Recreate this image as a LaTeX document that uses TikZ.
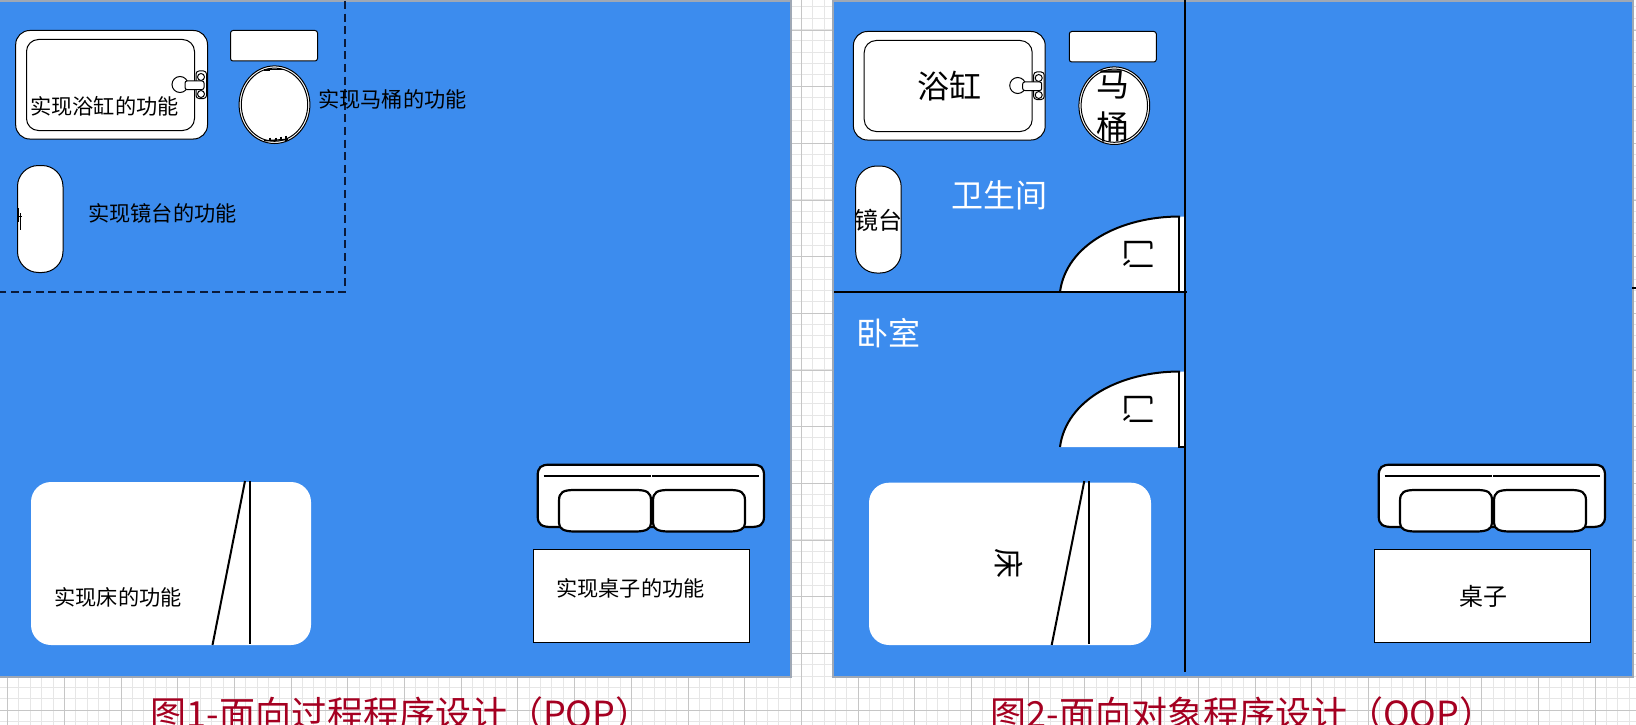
\documentclass[tikz,border=0pt]{standalone}
\usepackage{fontspec}
\setmainfont{Noto Sans CJK SC}
\definecolor{panelblue}{HTML}{3C8CEE}
\definecolor{edgegray}{HTML}{9FA8B5}
\definecolor{gridminor}{HTML}{E6E6E6}
\definecolor{gridmajor}{HTML}{C6C6C6}
\definecolor{titlered}{HTML}{A50021}
\definecolor{dashnavy}{HTML}{0A1A3A}
\tikzset{
  panel/.style={fill=panelblue,draw=none},
  item/.style={fill=white,draw=black,line width=1pt},
  heavy/.style={fill=white,draw=black,line width=2.2pt},
  label/.style={inner sep=0pt,font=\fontsize{21.2}{21.2}\selectfont,text=black},
  biglabel/.style={inner sep=0pt,font=\fontsize{32}{32}\selectfont,text=black},
  roomlabel/.style={inner sep=0pt,font=\fontsize{32}{32}\selectfont,text=white},
  doorlabel/.style={inner sep=0pt,font=\fontsize{32}{32}\selectfont,text=black,rotate=90},
  titlelabel/.style={inner sep=0pt,font=\fontsize{36}{36}\selectfont,text=titlered},
  wall/.style={draw=black,line width=2pt},
  partition/.style={draw=dashnavy,line width=2pt,dash pattern=on 8pt off 4.6pt},
}
\newcommand{\tubshape}{%
  \draw[item,rounded corners=14pt] (15.7,30.5) rectangle (207.5,139);
  \draw[item,rounded corners=12pt] (26.5,39.5) rectangle (194.5,130.5);
  \draw[item] (180,84.5) circle (8);
  \draw[item,rounded corners=3pt] (196,71) rectangle (206.5,98.5);
  \draw[item] (201,77) circle (3.5);
  \draw[item] (201,94) circle (3.5);
  \draw[item,rounded corners=2pt] (185,81) rectangle (204,89.5);
}
\newcommand{\cisternshape}{%
  \draw[item,rounded corners=2.5pt] (230.5,30.5) rectangle (317.5,61);
}
\newcommand{\bowlshape}{%
  \draw[item] (274.5,104.7) ellipse (35.4 and 38.8);
  \draw[item] (274.5,104.7) ellipse (33.2 and 36.6);
}
\newcommand{\standshape}{%
  \draw[item,rounded corners=21pt] (17.5,165.5) rectangle (63,272.5);
}
\newcommand{\sofashape}{%
  \draw[heavy] (537.7,476) .. controls (537.7,467) and (541,464.7) .. (550,464.7)
    -- (752,464.7) .. controls (761,464.7) and (764,467) .. (764,476)
    -- (764,516) .. controls (764,525) and (760,527) .. (750,527)
    -- (552,527) .. controls (542,527) and (537.7,525) .. (537.7,516) -- cycle;
  \draw[black,line width=2pt] (543.5,475.7) -- (650.5,475.7);
  \draw[black,line width=2pt] (652,475.7) -- (758.5,475.7);
  \draw[heavy] (559,501) .. controls (559,492) and (563,490) .. (575,490)
    -- (635,490) .. controls (647,490) and (651,492) .. (651,501)
    -- (651,523) .. controls (651,529) and (646,531.5) .. (635,531.5)
    -- (575,531.5) .. controls (564,531.5) and (559,529) .. (559,523) -- cycle;
  \draw[heavy] (653,501) .. controls (653,492) and (657,490) .. (669,490)
    -- (729,490) .. controls (741,490) and (745,492) .. (745,501)
    -- (745,523) .. controls (745,529) and (740,531.5) .. (729,531.5)
    -- (669,531.5) .. controls (658,531.5) and (653,529) .. (653,523) -- cycle;
  \draw[item] (533.5,549.5) rectangle (749.5,642.5);
}
\newcommand{\doorshape}[1]{%
  \fill[white] (1060,#1) .. controls (1066,#1-47) and (1120,#1-75.5) .. (1178,#1-75.5) -- (1185,#1-75.5) -- (1185,#1) -- cycle;
  \draw[black,line width=2pt] (1060,#1) .. controls (1066,#1-47) and (1120,#1-75.5) .. (1180,#1-75.5);
  \draw[black,line width=2pt] (1179,#1-75.5) -- (1179,#1) -- (1185,#1);
}
\begin{document}
\begin{tikzpicture}[x=1pt,y=-1pt]
\useasboundingbox (0,0) rectangle (1636,725);
\clip (0,0) rectangle (1636,725);
\fill[white] (0,0) rectangle (1636,725);
% sheet grid
\foreach \i in {0,...,144} {
  \draw[gridminor,line width=0.9pt] ({7.6+11.34*\i},0) -- ({7.6+11.34*\i},725);
}
\foreach \i in {0,...,64} {
  \draw[gridminor,line width=0.9pt] (0,{6.9+11.34*\i}) -- (1636,{6.9+11.34*\i});
}
\foreach \i in {0,...,28} {
  \draw[gridmajor,line width=0.9pt] ({7.6+56.7*\i},0) -- ({7.6+56.7*\i},725);
}
\foreach \i in {0,...,12} {
  \draw[gridmajor,line width=0.9pt] (0,{30+56.67*\i}) -- (1636,{30+56.67*\i});
}
% panels
\fill[edgegray] (0,0) rectangle (792,678);
\fill[edgegray] (832,0) rectangle (1634,678);
\fill[panelblue] (0,2) rectangle (790,676);
\fill[panelblue] (834,2) rectangle (1632,676);

% ---- figure 1
\tubshape
\cisternshape
\bowlshape
\draw[black,line width=2pt] (263.5,70.3) -- (270,70.3);
\draw[black,line width=0.8pt] (270,69.6) -- (283,69.6);
\draw[black,line width=1.4pt] (264,140.8) -- (288,139.4);
\foreach \tx/\ty in {270/137.5,276/137.5,281/136.5,286/135.5}
  \draw[black,line width=1.2pt] (\tx,\ty) -- (\tx,140.5);
\standshape
\draw[black,line width=1pt] (18.7,208) -- (18.7,222) (20.6,213) -- (20.6,230) (18,216) -- (21.5,216);
\draw[partition] (345,1) -- (345,292) -- (0,292);
\fill[white,rounded corners=20pt] (31,482) rectangle (311,645);
\draw[black,line width=2pt] (245,481) -- (212.5,645);
\draw[black,line width=2pt] (250,481) -- (250,644);
\sofashape
\node[label] (tub1) at (104.5,106) {实现浴缸的功能};
\node[label] (toilet1) at (392.5,99.5) {实现马桶的功能};
\node[label] (stand1) at (162.5,213) {实现镜台的功能};
\node[label] (bed1) at (118,597) {实现床的功能};
\node[label] (desk1) at (630.5,588) {实现桌子的功能};

% ---- figure 2
\begin{scope}[shift={(837.7,1)}]\tubshape\end{scope}
\begin{scope}[shift={(838.8,1)}]\cisternshape\end{scope}
\begin{scope}[shift={(839.8,1)}]\bowlshape\end{scope}
\begin{scope}[shift={(838.2,0.5)}]\standshape\end{scope}
\begin{scope}[shift={(841,0)}]\sofashape\end{scope}
\fill[white,rounded corners=20pt] (869,482.7) rectangle (1151,645);
\draw[black,line width=2pt] (1084.3,481) -- (1051.7,645);
\draw[black,line width=2pt] (1089,481) -- (1089,644);
\doorshape{292}
\doorshape{447}
\draw[wall] (1185,0) -- (1185,671.5);
\draw[wall] (834,292) -- (1187,292);
\draw[black,line width=2pt] (1632,288) -- (1635.5,288);
\node[biglabel] (tub2) at (949,85.7) {浴缸};
\node[inner sep=0pt,font=\fontsize{33}{33}\selectfont] (toilet2a) at (1113,84.5) {马};
\node[inner sep=0pt,font=\fontsize{33}{33}\selectfont] (toilet2b) at (1113,127) {桶};
\node[inner sep=0pt,font=\fontsize{24}{24}\selectfont] (stand2) at (878.5,220) {镜台};
\node[roomlabel] (bath2) at (999,195) {卫生间};
\node[roomlabel] (bedroom2) at (888,333) {卧室};
\node[doorlabel] (door2a) at (1138,254) {门};
\node[doorlabel] (door2b) at (1138,409) {门};
\node[inner sep=0pt,font=\fontsize{30}{30}\selectfont,rotate=-90] (bed2) at (1009,563) {床};
\node[inner sep=0pt,font=\fontsize{24}{24}\selectfont] (desk2) at (1483,596) {桌子};

% ---- captions
\node[titlelabel] (title1) at (401,713.5) {图1-面向过程程序设计（POP）};
\node[titlelabel] (title2) at (1243,713.5) {图2-面向对象程序设计（OOP）};
\end{tikzpicture}
\end{document}
